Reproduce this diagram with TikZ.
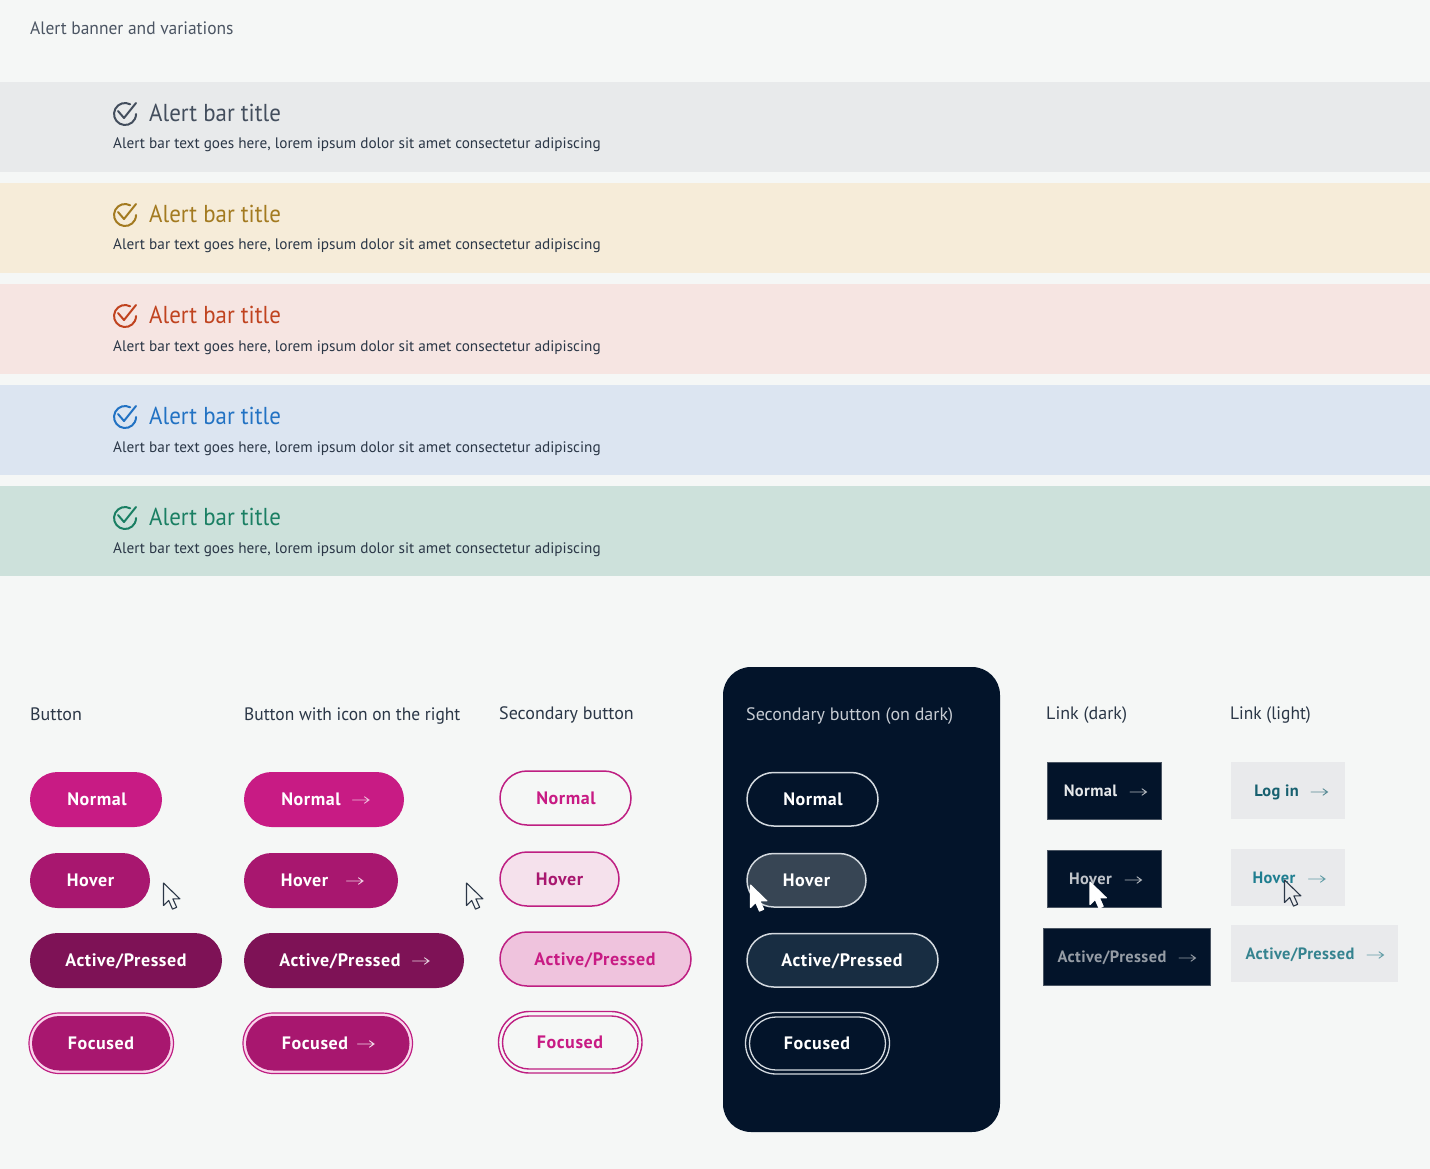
\documentclass[tikz,border=0pt]{standalone}
\usepackage{fontspec}
\setmainfont{PT Sans}
\newfontfamily\btnfont[LetterSpace=3.2]{PT Sans}
\newfontfamily\lnkfont[LetterSpace=2.4]{PT Sans}
\newfontfamily\headfont[FakeStretch=0.97]{PT Sans}
\newfontfamily\titlefont[FakeStretch=0.935]{PT Sans}
\definecolor{pagebg}{HTML}{F5F7F6}
\definecolor{darkbg}{HTML}{03142A}
\definecolor{bodyink}{HTML}{2B3747}
\definecolor{headink}{HTML}{4B5563}
\definecolor{mag}{HTML}{C81B84}
\definecolor{magh}{HTML}{A8176F}
\definecolor{maga}{HTML}{7E1256}
\definecolor{magline}{HTML}{BE1F82}
\definecolor{magring}{HTML}{FAD5EC}
\definecolor{tealink}{HTML}{17606F}
\definecolor{tealh}{HTML}{1F7E90}
\definecolor{teala}{HTML}{35838F}
\definecolor{linkbg}{HTML}{E9EAEC}
\definecolor{b1}{HTML}{E8EAEB}
\definecolor{b2}{HTML}{F6ECD9}
\definecolor{b3}{HTML}{F6E5E2}
\definecolor{b4}{HTML}{DCE5F1}
\definecolor{b5}{HTML}{CDE1DB}
\definecolor{t1}{HTML}{434E5D}
\definecolor{t2}{HTML}{A37A20}
\definecolor{t3}{HTML}{C0431F}
\definecolor{t4}{HTML}{2272C3}
\definecolor{t5}{HTML}{1A7F63}
\definecolor{darkhead}{HTML}{C7CCD3}
\definecolor{sh}{HTML}{F5E1EC}
\definecolor{sa}{HTML}{EFC3DD}
\definecolor{dline}{HTML}{D3D9DF}
\definecolor{dh}{HTML}{374554}
\definecolor{da}{HTML}{182D42}
\definecolor{dedge}{HTML}{4A5563}
\tikzset{
  x=1pt,y=-1pt,
  bar/.style={rectangle,minimum width=1430pt,minimum height=90.5pt,inner sep=0,outer sep=0,anchor=west},
  heading/.style={anchor=base west,inner sep=0,font=\fontsize{18}{20}\headfont},
  headwide/.style={anchor=base west,inner sep=0,font=\fontsize{18}{20}\selectfont},
  bartitle/.style={anchor=base west,inner sep=0,font=\fontsize{24.5}{26}\titlefont},
  bartext/.style={anchor=base west,inner sep=0,text=bodyink,font=\fontsize{15.25}{17}\selectfont},
  btn/.style={anchor=base,inner sep=0,font=\fontsize{18}{19}\btnfont\bfseries},
  lnk/.style={anchor=base,inner sep=0,font=\fontsize{16.4}{19}\lnkfont\bfseries},
  shapebox/.style={rectangle,inner sep=0,outer sep=0},
  arrowicon/.style={line width=0.9pt,line cap=round},
  cursorshape/.style={line width=1.1pt,line join=round},
}
% name, style, x1, y1, x2, y2
\newcommand{\pillnode}[6]{%
  \pgfmathsetmacro{\pw}{#5-#3}\pgfmathsetmacro{\ph}{#6-#4}%
  \pgfmathsetmacro{\pcx}{(#3+#5)/2}\pgfmathsetmacro{\pcy}{(#4+#6)/2}%
  \pgfmathsetmacro{\prad}{\ph/2}%
  \node[shapebox,rounded corners=\prad pt,minimum width=\pw pt,minimum height=\ph pt,#2] (#1) at (\pcx,\pcy) {};}
\newcommand{\boxnode}[6]{%
  \pgfmathsetmacro{\pw}{#5-#3}\pgfmathsetmacro{\ph}{#6-#4}%
  \pgfmathsetmacro{\pcx}{(#3+#5)/2}\pgfmathsetmacro{\pcy}{(#4+#6)/2}%
  \node[shapebox,minimum width=\pw pt,minimum height=\ph pt,#2] (#1) at (\pcx,\pcy) {};}
% x, y, colour
\newcommand{\arrowglyph}[3]{%
  \draw[arrowicon,#3] (#1,#2) -- ++(16.5,0) ++(-4.5,-3.2) -- ++(4.5,3.2) -- ++(-4.5,3.2);}
% x, y, fill, draw
\newcommand{\cursorglyph}[4]{%
  \filldraw[cursorshape,fill=#3,draw=#4] (#1,#2) -- ++(0,22.5) -- ++(5.2,-5) -- ++(3.8,8.6) -- ++(4.2,-1.8) -- ++(-3.8,-8.4) -- ++(7,0) -- cycle;}
% x, y, colour: the y flip of the picture makes arc angles run clockwise
\newcommand{\checkglyph}[3]{%
  \draw[#3,line width=2pt,line cap=round] (#1,#2) ++(5.2,-8.7) arc[start angle=-62,end angle=-360,radius=11];
  \draw[#3,line width=2pt,line cap=round,line join=round] (#1,#2) ++(-7,-2) -- ++(6,7) -- ++(12,-15);}
\begin{document}
\begin{tikzpicture}
\useasboundingbox (0,0) rectangle (1430,1169);
\fill[pagebg] (0,0) rectangle (1430,1169);

\node[heading,text=headink] (pagetitle) at (30,35) {Alert banner and variations};

\node[bar,fill=b1] (bar1) at (0,127) {};
\node[bar,fill=b2] (bar2) at (0,228) {};
\node[bar,fill=b3] (bar3) at (0,329) {};
\node[bar,fill=b4] (bar4) at (0,430) {};
\node[bar,fill=b5] (bar5) at (0,531) {};

\checkglyph{125}{113}{t1}
\node[bartitle,text=t1] (bt1) at (149,121.5) {Alert bar title};
\node[bartext] (bb1) at (113,149) {Alert bar text goes here, lorem ipsum dolor sit amet consectetur adipiscing};
\checkglyph{125}{214}{t2}
\node[bartitle,text=t2] (bt2) at (149,222.5) {Alert bar title};
\node[bartext] (bb2) at (113,250) {Alert bar text goes here, lorem ipsum dolor sit amet consectetur adipiscing};
\checkglyph{125}{315}{t3}
\node[bartitle,text=t3] (bt3) at (149,323.5) {Alert bar title};
\node[bartext] (bb3) at (113,351) {Alert bar text goes here, lorem ipsum dolor sit amet consectetur adipiscing};
\checkglyph{125}{416}{t4}
\node[bartitle,text=t4] (bt4) at (149,424.5) {Alert bar title};
\node[bartext] (bb4) at (113,452) {Alert bar text goes here, lorem ipsum dolor sit amet consectetur adipiscing};
\checkglyph{125}{517}{t5}
\node[bartitle,text=t5] (bt5) at (149,525.5) {Alert bar title};
\node[bartext] (bb5) at (113,553) {Alert bar text goes here, lorem ipsum dolor sit amet consectetur adipiscing};

% dark panel
\boxnode{panel}{fill=darkbg,rounded corners=28pt}{723}{667}{1000}{1132}

% column headings
\node[headwide,text=bodyink] (h1) at (30,720) {Button};
\node[heading,text=bodyink] (h2) at (244,720) {Button with icon on the right};
\node[headwide,text=bodyink] (h3) at (499,719) {Secondary button};
\node[headwide,text=darkhead] (h4) at (746,720) {Secondary button (on dark)};
\node[headwide,text=bodyink] (h5) at (1046,719) {Link (dark)};
\node[heading,text=bodyink] (h6) at (1230,719) {Link (light)};

% column 1
\pillnode{a1}{fill=mag}{30}{772}{162}{827}
\node[btn,text=white] (a1t) at (97,805.5) {Normal};
\pillnode{a2}{fill=magh}{30}{853}{150}{908}
\node[btn,text=white] (a2t) at (90.5,886.5) {Hover};
\pillnode{a3}{fill=maga}{30}{933}{222}{988}
\node[btn,text=white] (a3t) at (126,966.5) {Active/Pressed};
\pillnode{a4o}{fill=magring,draw=magline,line width=1.2pt}{29}{1013}{173.5}{1073.5}
\pillnode{a4}{fill=magh}{32}{1016}{170.5}{1070.5}
\node[btn,text=white] (a4t) at (101,1049.5) {Focused};
\cursorglyph{163.5}{883}{pagebg}{bodyink}

% column 2
\pillnode{b1n}{fill=mag}{244}{772}{404}{827}
\node[btn,text=white] (b1t) at (311,805.5) {Normal};
\arrowglyph{352.5}{800}{white!70!mag}
\pillnode{b2n}{fill=magh}{244}{853}{398}{908}
\node[btn,text=white] (b2t) at (304.5,886.5) {Hover};
\arrowglyph{346.5}{881}{white!80!magh}
\pillnode{b3n}{fill=maga}{244}{933}{464}{988}
\node[btn,text=white] (b3t) at (340,966.5) {Active/Pressed};
\arrowglyph{412.5}{961}{white!80!maga}
\pillnode{b4o}{fill=magring,draw=magline,line width=1.2pt}{243}{1013}{412.5}{1073.5}
\pillnode{b4n}{fill=magh}{246}{1016}{409.5}{1070.5}
\node[btn,text=white] (b4t) at (315,1049.5) {Focused};
\arrowglyph{357.5}{1044}{white!85!magh}
\cursorglyph{466.5}{883}{pagebg}{bodyink}

% column 3
\pillnode{c1}{draw=magline,line width=1.5pt,fill=pagebg}{500}{771}{631}{825}
\node[btn,text=mag] (c1t) at (566,804.5) {Normal};
\pillnode{c2}{draw=magline,line width=1.5pt,fill=sh}{500}{852}{619}{906}
\node[btn,text=magh] (c2t) at (559.5,885.5) {Hover};
\pillnode{c3}{draw=magline,line width=1.5pt,fill=sa}{500}{932}{691}{986}
\node[btn,text=mag] (c3t) at (595,965.5) {Active/Pressed};
\pillnode{c4o}{draw=magline,line width=1.4pt,fill=pagebg}{498.5}{1011.5}{642}{1073}
\pillnode{c4}{draw=magline,line width=1.4pt,fill=pagebg}{502.5}{1016}{638}{1069}
\node[btn,text=mag] (c4t) at (570,1048.5) {Focused};

% column 4 on dark
\pillnode{d1}{draw=dline,line width=1.5pt}{747}{772.5}{878}{826}
\node[btn,text=white] (d1t) at (813,805.5) {Normal};
\pillnode{d2}{draw=dline,line width=1.5pt,fill=dh}{747}{853.5}{866}{907}
\node[btn,text=white] (d2t) at (806.5,886.5) {Hover};
\pillnode{d3}{draw=dline,line width=1.5pt,fill=da}{747}{933.5}{938}{987}
\node[btn,text=white] (d3t) at (842,966.5) {Active/Pressed};
\pillnode{d4o}{draw=dline,line width=1.3pt}{745.5}{1012.5}{889.5}{1074}
\pillnode{d4}{draw=dline,line width=1.3pt}{749.5}{1017}{885.5}{1070}
\node[btn,text=white] (d4t) at (817,1049.5) {Focused};
\cursorglyph{750.5}{885}{white}{white}

% link dark
\boxnode{e1}{fill=darkbg,draw=dedge,line width=0.8pt}{1047}{762}{1161}{819}
\node[lnk,text=white!90!darkbg] (e1t) at (1090.5,796.5) {Normal};
\arrowglyph{1130}{792}{white!70!darkbg}
\boxnode{e2}{fill=darkbg,draw=dedge,line width=0.8pt}{1047}{850}{1161}{907}
\node[lnk,text=white!75!darkbg] (e2t) at (1090.5,884.5) {Hover};
\arrowglyph{1125}{880}{white!70!darkbg}
\boxnode{e3}{fill=darkbg,draw=dedge,line width=0.8pt}{1043}{928}{1210}{985}
\node[lnk,text=white!58!darkbg] (e3t) at (1112,962.5) {Active/Pressed};
\arrowglyph{1179}{958}{white!58!darkbg}
\cursorglyph{1090}{882}{white}{white}

% link light
\boxnode{f1}{fill=linkbg}{1231}{762}{1345}{819}
\node[lnk,text=tealink] (f1t) at (1276.5,796.5) {Log in};
\arrowglyph{1311}{792}{tealink!70!linkbg}
\boxnode{f2}{fill=linkbg}{1231}{849}{1345}{906}
\node[lnk,text=tealh] (f2t) at (1274,883.5) {Hover};
\arrowglyph{1308.5}{879}{teala!75!linkbg}
\boxnode{f3}{fill=linkbg}{1231}{925}{1398}{982}
\node[lnk,text=teala] (f3t) at (1300,959.5) {Active/Pressed};
\arrowglyph{1367}{955}{teala!75!linkbg}
\cursorglyph{1284.5}{880}{linkbg}{bodyink}
\end{tikzpicture}
\end{document}
